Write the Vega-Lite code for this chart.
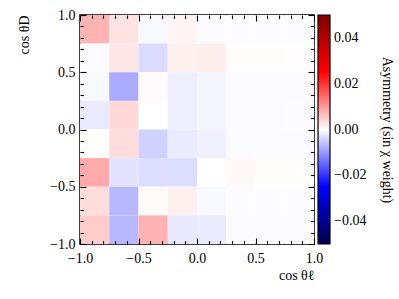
{
  "$schema": "https://vega.github.io/schema/vega-lite/v6.json",
  "width": 234,
  "height": 229,
  "autosize": "none",
  "padding": {"left": 80, "top": 15, "right": 85, "bottom": 55},
  "config": {
    "font": "Liberation Serif",
    "view": {"stroke": "black", "strokeWidth": 1.5},
    "axis": {"labelFont": "Liberation Serif", "titleFont": "Liberation Serif", "labelFontSize": 14, "titleFontSize": 14, "titleFontWeight": "normal", "labelColor": "black", "titleColor": "black", "tickColor": "black", "tickWidth": 1.1, "grid": false, "domain": false, "ticks": true, "labelOverlap": false, "labelFlush": false},
    "legend": {"labelFont": "Liberation Serif", "titleFont": "Liberation Serif"}
  },
  "data": {
    "values": [
      {"cl_lo": -1.0, "cl_hi": -0.75, "cd_lo": 0.75, "cd_hi": 1.0, "asym": 0.0075},
      {"cl_lo": -0.75, "cl_hi": -0.5, "cd_lo": 0.75, "cd_hi": 1.0, "asym": 0.0027},
      {"cl_lo": -0.5, "cl_hi": -0.25, "cd_lo": 0.75, "cd_hi": 1.0, "asym": -0.0007},
      {"cl_lo": -0.25, "cl_hi": 0.0, "cd_lo": 0.75, "cd_hi": 1.0, "asym": 0.001},
      {"cl_lo": 0.0, "cl_hi": 0.25, "cd_lo": 0.75, "cd_hi": 1.0, "asym": -0.0003},
      {"cl_lo": 0.25, "cl_hi": 0.5, "cd_lo": 0.75, "cd_hi": 1.0, "asym": -0.0003},
      {"cl_lo": 0.5, "cl_hi": 0.75, "cd_lo": 0.75, "cd_hi": 1.0, "asym": -0.0003},
      {"cl_lo": 0.75, "cl_hi": 1.0, "cd_lo": 0.75, "cd_hi": 1.0, "asym": -0.0003},

      {"cl_lo": -1.0, "cl_hi": -0.75, "cd_lo": 0.5, "cd_hi": 0.75, "asym": -0.0003},
      {"cl_lo": -0.75, "cl_hi": -0.5, "cd_lo": 0.5, "cd_hi": 0.75, "asym": 0.0025},
      {"cl_lo": -0.5, "cl_hi": -0.25, "cd_lo": 0.5, "cd_hi": 0.75, "asym": -0.0035},
      {"cl_lo": -0.25, "cl_hi": 0.0, "cd_lo": 0.5, "cd_hi": 0.75, "asym": 0.0015},
      {"cl_lo": 0.0, "cl_hi": 0.25, "cd_lo": 0.5, "cd_hi": 0.75, "asym": 0.0017},
      {"cl_lo": 0.25, "cl_hi": 0.5, "cd_lo": 0.5, "cd_hi": 0.75, "asym": 0.0003},
      {"cl_lo": 0.5, "cl_hi": 0.75, "cd_lo": 0.5, "cd_hi": 0.75, "asym": 0.0003},
      {"cl_lo": 0.75, "cl_hi": 1.0, "cd_lo": 0.5, "cd_hi": 0.75, "asym": 0.0002},

      {"cl_lo": -1.0, "cl_hi": -0.75, "cd_lo": 0.25, "cd_hi": 0.5, "asym": -0.0007},
      {"cl_lo": -0.75, "cl_hi": -0.5, "cd_lo": 0.25, "cd_hi": 0.5, "asym": -0.0083},
      {"cl_lo": -0.5, "cl_hi": -0.25, "cd_lo": 0.25, "cd_hi": 0.5, "asym": 0.0005},
      {"cl_lo": -0.25, "cl_hi": 0.0, "cd_lo": 0.25, "cd_hi": 0.5, "asym": -0.0017},
      {"cl_lo": 0.0, "cl_hi": 0.25, "cd_lo": 0.25, "cd_hi": 0.5, "asym": -0.001},
      {"cl_lo": 0.25, "cl_hi": 0.5, "cd_lo": 0.25, "cd_hi": 0.5, "asym": -0.0004},
      {"cl_lo": 0.5, "cl_hi": 0.75, "cd_lo": 0.25, "cd_hi": 0.5, "asym": -0.0004},
      {"cl_lo": 0.75, "cl_hi": 1.0, "cd_lo": 0.25, "cd_hi": 0.5, "asym": -0.0004},

      {"cl_lo": -1.0, "cl_hi": -0.75, "cd_lo": 0.0, "cd_hi": 0.25, "asym": -0.002},
      {"cl_lo": -0.75, "cl_hi": -0.5, "cd_lo": 0.0, "cd_hi": 0.25, "asym": 0.0037},
      {"cl_lo": -0.5, "cl_hi": -0.25, "cd_lo": 0.0, "cd_hi": 0.25, "asym": 0.0},
      {"cl_lo": -0.25, "cl_hi": 0.0, "cd_lo": 0.0, "cd_hi": 0.25, "asym": -0.0017},
      {"cl_lo": 0.0, "cl_hi": 0.25, "cd_lo": 0.0, "cd_hi": 0.25, "asym": -0.001},
      {"cl_lo": 0.25, "cl_hi": 0.5, "cd_lo": 0.0, "cd_hi": 0.25, "asym": -0.0004},
      {"cl_lo": 0.5, "cl_hi": 0.75, "cd_lo": 0.0, "cd_hi": 0.25, "asym": -0.0004},
      {"cl_lo": 0.75, "cl_hi": 1.0, "cd_lo": 0.0, "cd_hi": 0.25, "asym": -0.0003},

      {"cl_lo": -1.0, "cl_hi": -0.75, "cd_lo": -0.25, "cd_hi": 0.0, "asym": 0.0003},
      {"cl_lo": -0.75, "cl_hi": -0.5, "cd_lo": -0.25, "cd_hi": 0.0, "asym": 0.0033},
      {"cl_lo": -0.5, "cl_hi": -0.25, "cd_lo": -0.25, "cd_hi": 0.0, "asym": -0.0045},
      {"cl_lo": -0.25, "cl_hi": 0.0, "cd_lo": -0.25, "cd_hi": 0.0, "asym": -0.002},
      {"cl_lo": 0.0, "cl_hi": 0.25, "cd_lo": -0.25, "cd_hi": 0.0, "asym": -0.0015},
      {"cl_lo": 0.25, "cl_hi": 0.5, "cd_lo": -0.25, "cd_hi": 0.0, "asym": -0.0005},
      {"cl_lo": 0.5, "cl_hi": 0.75, "cd_lo": -0.25, "cd_hi": 0.0, "asym": -0.0004},
      {"cl_lo": 0.75, "cl_hi": 1.0, "cd_lo": -0.25, "cd_hi": 0.0, "asym": -0.0004},

      {"cl_lo": -1.0, "cl_hi": -0.75, "cd_lo": -0.5, "cd_hi": -0.25, "asym": 0.0083},
      {"cl_lo": -0.75, "cl_hi": -0.5, "cd_lo": -0.5, "cd_hi": -0.25, "asym": -0.0027},
      {"cl_lo": -0.5, "cl_hi": -0.25, "cd_lo": -0.5, "cd_hi": -0.25, "asym": -0.0033},
      {"cl_lo": -0.25, "cl_hi": 0.0, "cd_lo": -0.5, "cd_hi": -0.25, "asym": -0.0033},
      {"cl_lo": 0.0, "cl_hi": 0.25, "cd_lo": -0.5, "cd_hi": -0.25, "asym": 0.0},
      {"cl_lo": 0.25, "cl_hi": 0.5, "cd_lo": -0.5, "cd_hi": -0.25, "asym": 0.0007},
      {"cl_lo": 0.5, "cl_hi": 0.75, "cd_lo": -0.5, "cd_hi": -0.25, "asym": 0.0003},
      {"cl_lo": 0.75, "cl_hi": 1.0, "cd_lo": -0.5, "cd_hi": -0.25, "asym": 0.0003},

      {"cl_lo": -1.0, "cl_hi": -0.75, "cd_lo": -0.75, "cd_hi": -0.5, "asym": 0.0033},
      {"cl_lo": -0.75, "cl_hi": -0.5, "cd_lo": -0.75, "cd_hi": -0.5, "asym": -0.007},
      {"cl_lo": -0.5, "cl_hi": -0.25, "cd_lo": -0.75, "cd_hi": -0.5, "asym": 0.0005},
      {"cl_lo": -0.25, "cl_hi": 0.0, "cd_lo": -0.75, "cd_hi": -0.5, "asym": 0.0015},
      {"cl_lo": 0.0, "cl_hi": 0.25, "cd_lo": -0.75, "cd_hi": -0.5, "asym": -0.0007},
      {"cl_lo": 0.25, "cl_hi": 0.5, "cd_lo": -0.75, "cd_hi": -0.5, "asym": -0.0003},
      {"cl_lo": 0.5, "cl_hi": 0.75, "cd_lo": -0.75, "cd_hi": -0.5, "asym": -0.0003},
      {"cl_lo": 0.75, "cl_hi": 1.0, "cd_lo": -0.75, "cd_hi": -0.5, "asym": -0.0003},

      {"cl_lo": -1.0, "cl_hi": -0.75, "cd_lo": -1.0, "cd_hi": -0.75, "asym": 0.005},
      {"cl_lo": -0.75, "cl_hi": -0.5, "cd_lo": -1.0, "cd_hi": -0.75, "asym": -0.007},
      {"cl_lo": -0.5, "cl_hi": -0.25, "cd_lo": -1.0, "cd_hi": -0.75, "asym": 0.0075},
      {"cl_lo": -0.25, "cl_hi": 0.0, "cd_lo": -1.0, "cd_hi": -0.75, "asym": -0.0023},
      {"cl_lo": 0.0, "cl_hi": 0.25, "cd_lo": -1.0, "cd_hi": -0.75, "asym": -0.002},
      {"cl_lo": 0.25, "cl_hi": 0.5, "cd_lo": -1.0, "cd_hi": -0.75, "asym": -0.0005},
      {"cl_lo": 0.5, "cl_hi": 0.75, "cd_lo": -1.0, "cd_hi": -0.75, "asym": -0.0004},
      {"cl_lo": 0.75, "cl_hi": 1.0, "cd_lo": -1.0, "cd_hi": -0.75, "asym": -0.0004}
    ]
  },
  "resolve": {"axis": {"x": "independent", "y": "independent"}},
  "layer": [
    {
      "mark": {"type": "rect", "stroke": null},
      "encoding": {
        "x": {"field": "cl_lo", "type": "quantitative", "scale": {"domain": [-1, 1], "nice": false, "zero": false},
          "axis": {"orient": "bottom", "values": [-1, -0.5, 0, 0.5, 1], "offset": -6, "tickSize": 6, "zindex": 2,
            "labelExpr": "replace(format(datum.value, '.1f'), '-', '−')",
            "labelPadding": 7,
            "title": "cos θℓ", "titleAnchor": "end", "titleAlign": "right", "titlePadding": 3}},
        "x2": {"field": "cl_hi"},
        "y": {"field": "cd_lo", "type": "quantitative", "scale": {"domain": [-1, 1], "nice": false, "zero": false},
          "axis": {"orient": "left", "values": [-1, -0.5, 0, 0.5, 1], "offset": -6, "tickSize": 6, "zindex": 2,
            "labelExpr": "replace(format(datum.value, '.1f'), '-', '−')",
            "labelPadding": 5,
            "title": "cos θD", "titleAnchor": "end", "titleAlign": "right", "titlePadding": 18}},
        "y2": {"field": "cd_hi"},
        "color": {"field": "asym", "type": "quantitative",
          "scale": {"type": "linear", "domain": [-0.05, -0.025, 0, 0.025, 0.05], "range": ["#00004c", "#0000ff", "#ffffff", "#ff0000", "#800000"], "interpolate": "rgb"},
          "legend": {"orient": "right", "offset": 3, "padding": 0, "gradientLength": 229, "gradientThickness": 12,
            "values": [-0.04, -0.02, 0, 0.02, 0.04],
            "labelExpr": "replace(format(datum.value, '.2f'), '-', '−')",
            "labelFontSize": 14, "labelColor": "black", "labelOffset": 4,
            "gradientStrokeColor": "black", "gradientStrokeWidth": 1.2,
            "title": "Asymmetry (sin χ weight)", "titleOrient": "right", "titleAngle": 270, "titleAnchor": "middle", "titleAlign": "center", "titleBaseline": "bottom",
            "titleFontSize": 14, "titleFontWeight": "normal", "titleColor": "black", "titlePadding": 14}}
      }
    },
    {
      "mark": {"type": "rect", "opacity": 0},
      "encoding": {
        "x": {"field": "cl_lo", "type": "quantitative",
          "axis": {"orient": "bottom", "values": [-0.9, -0.8, -0.7, -0.6, -0.4, -0.3, -0.2, -0.1, 0.1, 0.2, 0.3, 0.4, 0.6, 0.7, 0.8, 0.9],
            "offset": -3.5, "tickSize": 3.5, "zindex": 2, "labels": false, "title": null}},
        "x2": {"field": "cl_hi"},
        "y": {"field": "cd_lo", "type": "quantitative",
          "axis": {"orient": "left", "values": [-0.9, -0.8, -0.7, -0.6, -0.4, -0.3, -0.2, -0.1, 0.1, 0.2, 0.3, 0.4, 0.6, 0.7, 0.8, 0.9],
            "offset": -3.5, "tickSize": 3.5, "zindex": 2, "labels": false, "title": null}},
        "y2": {"field": "cd_hi"}
      }
    },
    {
      "mark": {"type": "rect", "opacity": 0},
      "encoding": {
        "x": {"field": "cl_lo", "type": "quantitative",
          "axis": {"orient": "top", "values": [-1, -0.5, 0, 0.5, 1], "offset": -6, "tickSize": 6, "zindex": 2, "labels": false, "title": null}},
        "x2": {"field": "cl_hi"},
        "y": {"field": "cd_lo", "type": "quantitative",
          "axis": {"orient": "right", "values": [-1, -0.5, 0, 0.5, 1], "offset": -6, "tickSize": 6, "zindex": 2, "labels": false, "title": null}},
        "y2": {"field": "cd_hi"}
      }
    },
    {
      "mark": {"type": "rect", "opacity": 0},
      "encoding": {
        "x": {"field": "cl_lo", "type": "quantitative",
          "axis": {"orient": "top", "values": [-0.9, -0.8, -0.7, -0.6, -0.4, -0.3, -0.2, -0.1, 0.1, 0.2, 0.3, 0.4, 0.6, 0.7, 0.8, 0.9],
            "offset": -3.5, "tickSize": 3.5, "zindex": 2, "labels": false, "title": null}},
        "x2": {"field": "cl_hi"},
        "y": {"field": "cd_lo", "type": "quantitative",
          "axis": {"orient": "right", "values": [-0.9, -0.8, -0.7, -0.6, -0.4, -0.3, -0.2, -0.1, 0.1, 0.2, 0.3, 0.4, 0.6, 0.7, 0.8, 0.9],
            "offset": -3.5, "tickSize": 3.5, "zindex": 2, "labels": false, "title": null}},
        "y2": {"field": "cd_hi"}
      }
    }
  ]
}
